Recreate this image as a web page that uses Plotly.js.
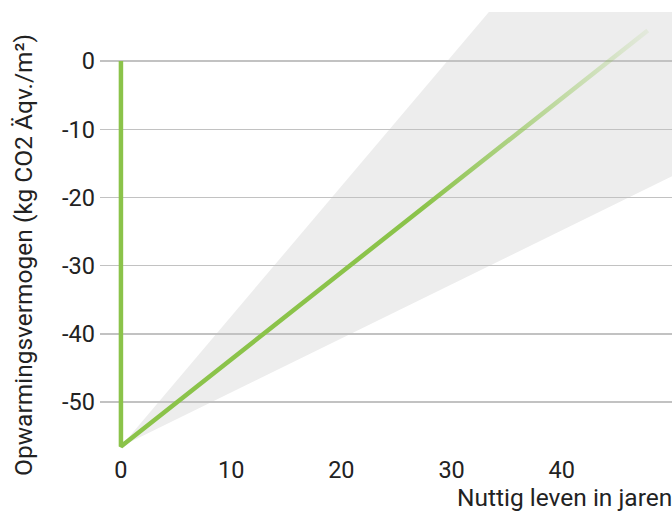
<!DOCTYPE html>
<html>
<head>
<meta charset="utf-8">
<script src="https://cdn.plot.ly/plotly-3.0.1.min.js"></script>
<style>
  html, body { margin: 0; padding: 0; background: #fff; }
  #chart { width: 672px; height: 513px; }
</style>
</head>
<body>
<div id="chart"></div>
<script>
// --- data ---
const years = [0, 0, 47.8];          // Nuttig leven in jaren
const gwp = [0, -56.5, 4.5];         // kg CO2 Äqv./m²
const bandYears = [0, 50];
const bandLow = [-56.5, -16.9];
const bandHigh = [-56.5, 38.9];
const yTicks = [0, -10, -20, -30, -40, -50];
const xTicks = [0, 10, 20, 30, 40];
const xTitle = 'Nuttig leven in jaren';
const yTitle = 'Opwarmingsvermogen (kg CO2 Äqv./m²)';

const green = '#8bc34a';
const fontFam = 'Roboto, "Noto Sans", sans-serif';

// uncertainty band as a shape below the gridlines (built from the band arrays)
let bandPath = 'M ' + bandYears[0] + ',' + bandLow[0];
for (let i = 1; i < bandYears.length; i++) bandPath += ' L ' + bandYears[i] + ',' + bandLow[i];
for (let i = bandYears.length - 1; i >= 0; i--) bandPath += ' L ' + bandYears[i] + ',' + bandHigh[i];
bandPath += ' Z';

const traces = [
  { x: years, y: gwp, mode: 'lines', line: { width: 4.5, color: green },
    showlegend: false }
];

const layout = {
  width: 672, height: 513,
  margin: { l: 100, r: 0, t: 12, b: 60 },
  paper_bgcolor: '#fff', plot_bgcolor: '#fff',
  font: { family: fontFam, size: 23, color: '#222' },
  showlegend: false,
  xaxis: {
    range: [-1.9, 50], tickvals: xTicks, ticktext: xTicks.map(String),
    showgrid: false, zeroline: false, showline: false, ticks: '',
    tickfont: { family: fontFam, size: 23.5, color: '#222' }
  },
  yaxis: {
    range: [-57.46, 7.2], tickvals: yTicks, ticktext: yTicks.map(String),
    showgrid: true, gridcolor: '#c2c2c2', gridwidth: 1.5,
    zeroline: false, showline: false, ticks: '', ticklabelstandoff: 4,
    tickfont: { family: fontFam, size: 23.5, color: '#222' }
  },
  shapes: [
    { type: 'path', path: bandPath, xref: 'x', yref: 'y', layer: 'below',
      fillcolor: '#ededed', line: { width: 0 } }
  ],
  annotations: [
    { text: xTitle, xref: 'paper', yref: 'paper', x: 1.003, y: -0.0998,
      xanchor: 'right', yanchor: 'middle', showarrow: false,
      font: { family: fontFam, size: 24.5, color: '#222' } },
    { text: yTitle, xref: 'paper', yref: 'paper', x: -0.133, y: 0.449,
      xanchor: 'center', yanchor: 'middle', textangle: -90, showarrow: false,
      font: { family: fontFam, size: 24.5, color: '#222' } }
  ]
};

Plotly.newPlot('chart', traces, layout, { displayModeBar: false, staticPlot: true }).then(function (gd) {
  const svg = gd.querySelector('svg.main-svg');
  const ns = 'http://www.w3.org/2000/svg';
  let defs = svg.querySelector('defs');
  if (!defs) { defs = document.createElementNS(ns, 'defs'); svg.insertBefore(defs, svg.firstChild); }
  const grad = document.createElementNS(ns, 'linearGradient');
  grad.setAttribute('id', 'fadeGreen');
  grad.setAttribute('x1', '0'); grad.setAttribute('x2', '1');
  grad.setAttribute('y1', '0'); grad.setAttribute('y2', '0');
  [[0, 1], [0.57, 1], [1, 0.1]].forEach(function (s) {
    const st = document.createElementNS(ns, 'stop');
    st.setAttribute('offset', s[0]);
    st.setAttribute('stop-color', green);
    st.setAttribute('stop-opacity', s[1]);
    grad.appendChild(st);
  });
  defs.appendChild(grad);
  const tr = gd.querySelectorAll('.scatterlayer .trace');
  const path = tr[0].querySelector('path.js-line');
  if (path) path.style.stroke = 'url(#fadeGreen)';
});
</script>
</body>
</html>
